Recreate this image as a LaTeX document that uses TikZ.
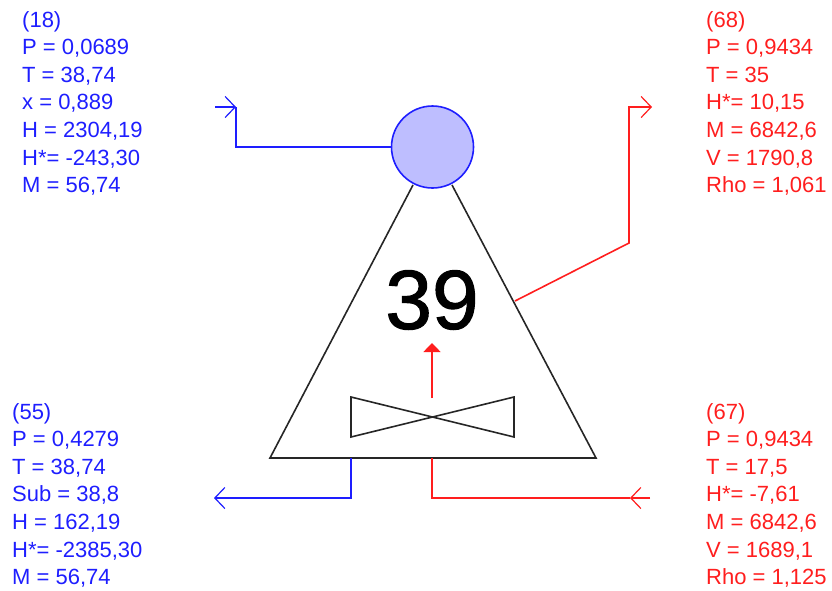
\documentclass[tikz,border=0pt]{standalone}
\usepackage{fontspec}
\setmainfont{Liberation Sans}
\newfontfamily\numfont[FakeBold=1.2]{Liberation Sans}
\usetikzlibrary{arrows.meta, positioning}
\definecolor{streamblue}{RGB}{30,30,255}
\definecolor{streamred}{RGB}{255,30,30}
\definecolor{condfill}{RGB}{190,190,255}

\begin{document}
\begin{tikzpicture}[
            x=1pt, y=-1pt,
            vessel/.style={draw=black!85, line width=1.6pt},
            coldline/.style={draw=streamblue, line width=1.6pt},
            hotline/.style={draw=streamred, line width=1.6pt},
            barb/.style={-{Straight Barb[length=10pt, width=21pt, line width=1.2pt]}},
            data/.style={anchor=north west, align=left, inner sep=0pt,
            font=\fontsize{22}{27.6}\selectfont}
        ]
            \useasboundingbox (0,0) rectangle (832,590);

% ----- Kolonne -----
            \node[circle, draw=streamblue, fill=condfill, line width=1.6pt,
                minimum size=82pt, inner sep=0pt] (cond) at (432.5,147) {};
            \coordinate (apexL) at (413,185);
            \coordinate (apexR) at (452,185);
            \coordinate (baseL) at (270,458);
            \coordinate (baseR) at (596,458);
            \draw[vessel] (apexL) -- (baseL) -- (baseR) -- (apexR);
            \node[font=\numfont\fontsize{84}{84}\selectfont, inner sep=0pt] (num) at (432,300) {39};

% ----- Ventil -----
            \coordinate (v1) at (351,397);
            \coordinate (v2) at (514,437);
            \coordinate (v3) at (514,397);
            \coordinate (v4) at (351,437);
            \draw[vessel] (v1) -- (v2) -- (v3) -- (v4) -- cycle;
            \coordinate (vtop) at (432,398);
            \coordinate (vtip) at (432,343);
            \draw[hotline, -{Triangle[length=9pt, width=17pt]}] (vtop) -- (vtip);

% ----- Strom 18 -----
            \coordinate (s18a) at (215,107);
            \coordinate (s18b) at (236,107);
            \draw[coldline, barb] (s18a) -- (s18b);
            \draw[coldline] (s18b) |- (cond.west);

% ----- Strom 68 -----
            \coordinate (s68a) at (515,301);
            \coordinate (s68b) at (629,243);
            \coordinate (s68c) at (629,107);
            \coordinate (s68d) at (652,107);
            \draw[hotline, barb] (s68a) -- (s68b) -- (s68c) -- (s68d);

% ----- Strom 55 -----
            \coordinate (s55a) at (351,458);
            \coordinate (s55b) at (351,498);
            \coordinate (s55c) at (214,498);
            \draw[coldline, barb] (s55a) -- (s55b) -- (s55c);

% ----- Strom 67 -----
            \coordinate (s67a) at (650,498);
            \coordinate (s67b) at (630,498);
            \coordinate (s67c) at (432,498);
            \coordinate (s67d) at (432,458);
            \draw[hotline, barb] (s67a) -- (s67b);
            \draw[hotline] (s67b) -- (s67c) -- (s67d);

% ----- Daten -----
            \node[data, text=streamblue] (d18) at (22,11) {(18)\\P = 0,0689\\T = 38,74\\x = 0,889\\H = 2304,19\\H*= -243,30\\M = 56,74};
            \node[data, text=streamred] (d68) at (706,11) {(68)\\P = 0,9434\\T = 35\\H*= 10,15\\M = 6842,6\\V = 1790,8\\Rho = 1,061};
            \node[data, text=streamblue] (d55) at (12,403) {(55)\\P = 0,4279\\T = 38,74\\Sub = 38,8\\H = 162,19\\H*= -2385,30\\M = 56,74};
            \node[data, text=streamred] (d67) at (706,403) {(67)\\P = 0,9434\\T = 17,5\\H*= -7,61\\M = 6842,6\\V = 1689,1\\Rho = 1,125};

        \end{tikzpicture}
\end{document}
